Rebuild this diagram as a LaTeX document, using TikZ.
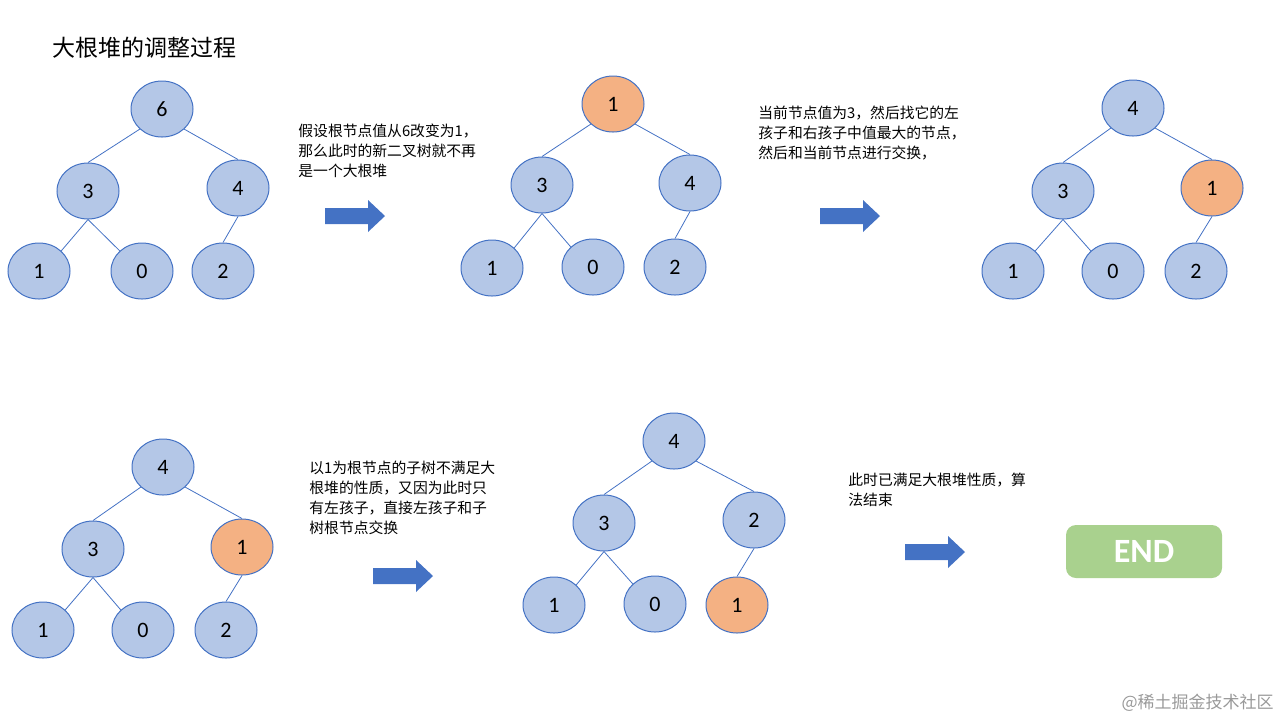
\documentclass[tikz,border=0pt]{standalone}
\usepackage{fontspec}
\setmainfont{Noto Sans CJK SC}
\newfontfamily\carl{Carlito}
\usetikzlibrary{shapes.geometric}
\definecolor{nfill}{HTML}{B4C7E7}
\definecolor{nline}{HTML}{4472C4}
\definecolor{ofill}{HTML}{F4B183}
\definecolor{efill}{HTML}{A9D18E}
\begin{document}
\begin{tikzpicture}[x=0.5pt,y=-0.5pt,
  tn/.style={ellipse,draw=nline,fill=nfill,line width=0.5pt,minimum width=31pt,minimum height=28pt,inner sep=0pt,font=\fontsize{11}{11}\selectfont\carl},
  on/.style={tn,fill=ofill},
  ed/.style={draw=nline,line width=0.4pt},
  bigarrow/.style={fill=nline,draw=none},
  desc/.style={anchor=north west,align=left,inner sep=0pt,font=\fontsize{7.4}{10}\selectfont}]
\useasboundingbox (0,0) rectangle (1280,720);
\node[anchor=west,inner sep=0pt,font=\fontsize{11.5}{12}\selectfont] (title) at (52,48) {大根堆的调整过程};
\newcommand\mytree[1]{%
\draw[ed] (#10.south west)--(#11.north); \draw[ed] (#10.south east)--(#12.north);
\draw[ed] (#11.south)--(#13.north east); \draw[ed] (#11.south)--(#14.north west);
\draw[ed] (#12.south)--(#15.north);}
% tree 1
\node[tn] (a0) at (162,109) {6};
\node[tn] (a1) at (88,191) {3};
\node[tn] (a2) at (238,188) {4};
\node[tn] (a3) at (39,271) {1};
\node[tn] (a4) at (142,271) {0};
\node[tn] (a5) at (223,271) {2};
\mytree{a}
% tree 2
\node[on] (b0) at (613,104) {1};
\node[tn] (b1) at (542,185) {3};
\node[tn] (b2) at (690,183) {4};
\node[tn] (b3) at (492,268) {1};
\node[tn] (b4) at (593,267) {0};
\node[tn] (b5) at (675,267) {2};
\mytree{b}
% tree 3
\node[tn] (c0) at (1133,108) {4};
\node[tn] (c1) at (1063,191) {3};
\node[on] (c2) at (1212,188) {1};
\node[tn] (c3) at (1013,271) {1};
\node[tn] (c4) at (1113,271) {0};
\node[tn] (c5) at (1196,271) {2};
\mytree{c}
% tree 4
\node[tn] (d0) at (163,467) {4};
\node[tn] (d1) at (93,549) {3};
\node[on] (d2) at (242,547) {1};
\node[tn] (d3) at (43,630) {1};
\node[tn] (d4) at (143,630) {0};
\node[tn] (d5) at (226,630) {2};
\mytree{d}
% tree 5
\node[tn] (e0) at (674,441) {4};
\node[tn] (e1) at (604,523) {3};
\node[tn] (e2) at (754,520) {2};
\node[tn] (e3) at (554,605) {1};
\node[tn] (e4) at (655,604) {0};
\node[on] (e5) at (737,605) {1};
\mytree{e}
% arrows
\foreach \x/\y in {325/216,820/216,373/576,905/552}{
  \fill[bigarrow] (\x,\y-8)--(\x+43,\y-8)--(\x+43,\y-16)--(\x+60,\y)--(\x+43,\y+16)--(\x+43,\y+8)--(\x,\y+8)--cycle;}
% texts
\node[desc] (t1) at (298,124) {假设根节点值从6改变为1，\\那么此时的新二叉树就不再\\是一个大根堆};
\node[desc] (t2) at (758,106) {当前节点值为3，然后找它的左\\孩子和右孩子中值最大的节点，\\然后和当前节点进行交换，};
\node[desc] (t3) at (309,461) {以1为根节点的子树不满足大\\根堆的性质，又因为此时只\\有左孩子，直接左孩子和子\\树根节点交换};
\node[desc] (t4) at (848,473) {此时已满足大根堆性质，算\\法结束};
\node[fill=efill,rounded corners=5pt,minimum width=78pt,minimum height=26.5pt,text=white,font=\fontsize{17}{17}\selectfont\carl\bfseries] (end) at (1144,551.5) {END};
\node[anchor=east,inner sep=0pt,text=gray!80,font=\fontsize{8.5}{10}\selectfont] (wm) at (1274,703) {@稀土掘金技术社区};
\end{tikzpicture}
\end{document}
